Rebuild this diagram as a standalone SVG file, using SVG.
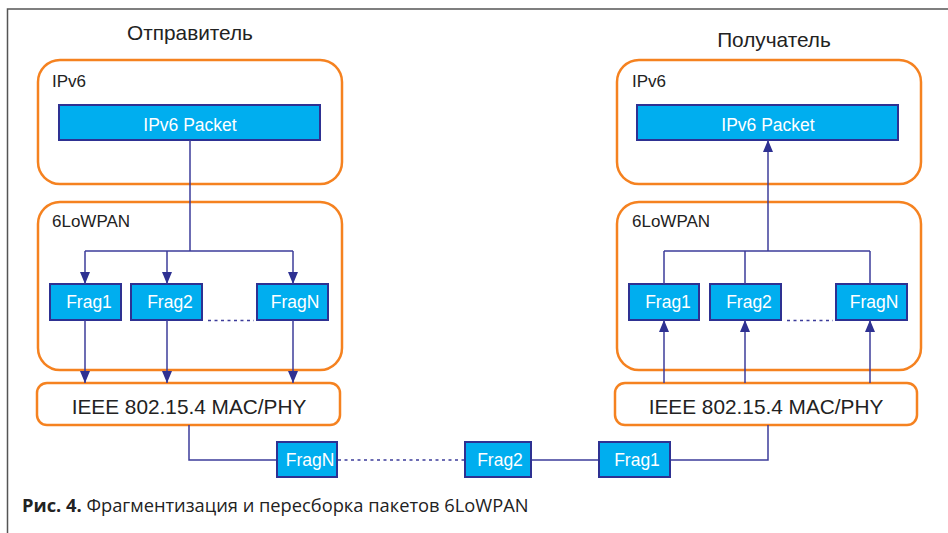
<svg xmlns="http://www.w3.org/2000/svg" width="948" height="533" viewBox="0 0 948 533">
  <defs>
    <marker id="arrow" markerWidth="12" markerHeight="10" refX="12" refY="5" orient="auto" markerUnits="userSpaceOnUse">
      <path d="M0,0 L12,5 L0,10 Z" fill="#2E3192"/>
    </marker>
    <style>
      .layer { fill: #fff; stroke: #F58220; stroke-width: 2.5; }
      .blk { fill: #00AEEF; stroke: #2E3192; stroke-width: 2; }
      .wire { fill: none; stroke: #3C3C9A; stroke-width: 1.5; }
      .dots { fill: none; stroke: #3C3C9A; stroke-width: 1.5; stroke-dasharray: 3 3.5; }
      .arr { marker-end: url(#arrow); }
      .t { font-family: "Liberation Sans", Arial, sans-serif; fill: #222; }
      .lbl { font-family: "Liberation Sans", Arial, sans-serif; fill: #222; font-size: 17px; }
      .w { font-family: "Liberation Sans", Arial, sans-serif; fill: #fff; font-size: 17.5px; text-anchor: middle; }
      .cap { font-family: "Open Sans", "Noto Sans", sans-serif; fill: #222; font-size: 18.3px; }
    </style>
  </defs>

  <rect width="948" height="533" fill="#fff"/>
  <!-- frame -->
  <path d="M7.5,533 V9 H948" fill="none" stroke="#555" stroke-width="1.5"/>

  <!-- titles -->
  <text class="t" x="190" y="40" font-size="20.8" text-anchor="middle">Отправитель</text>
  <text class="t" x="774" y="47" font-size="20.8" text-anchor="middle">Получатель</text>

  <!-- sender -->
  <g id="sender-ipv6">
    <rect class="layer" x="38" y="60" width="304" height="124" rx="22"/>
    <text class="lbl" x="52" y="87">IPv6</text>
  </g>
  <g id="sender-packet">
    <rect class="blk" x="59" y="105" width="261" height="35"/>
    <text class="w" x="190" y="131" font-size="18.3">IPv6 Packet</text>
  </g>
  <g id="sender-6lowpan">
    <rect class="layer" x="38" y="202" width="304" height="168" rx="22"/>
    <text class="lbl" x="52" y="227">6LoWPAN</text>
  </g>
  <g id="sender-frag1">
    <rect class="blk" x="50" y="284" width="71" height="36"/>
    <text class="w" x="89" y="308">Frag1</text>
  </g>
  <g id="sender-frag2">
    <rect class="blk" x="131" y="284" width="71" height="36"/>
    <text class="w" x="170" y="308">Frag2</text>
  </g>
  <g id="sender-fragn">
    <rect class="blk" x="257" y="284" width="71" height="36"/>
    <text class="w" x="295" y="308">FragN</text>
  </g>
  <g id="sender-mac">
    <rect class="layer" x="37" y="383" width="303" height="42" rx="10"/>
    <text class="t" x="189" y="414" font-size="20.8" text-anchor="middle">IEEE 802.15.4 MAC/PHY</text>
  </g>

  <!-- receiver -->
  <g id="receiver-ipv6">
    <rect class="layer" x="617" y="60" width="304" height="124" rx="22"/>
    <text class="lbl" x="632" y="87">IPv6</text>
  </g>
  <g id="receiver-packet">
    <rect class="blk" x="637" y="105" width="261" height="35"/>
    <text class="w" x="768" y="131" font-size="18.3">IPv6 Packet</text>
  </g>
  <g id="receiver-6lowpan">
    <rect class="layer" x="617" y="202" width="304" height="168" rx="22"/>
    <text class="lbl" x="632" y="227">6LoWPAN</text>
  </g>
  <g id="receiver-frag1">
    <rect class="blk" x="629" y="284" width="70" height="36"/>
    <text class="w" x="668" y="308">Frag1</text>
  </g>
  <g id="receiver-frag2">
    <rect class="blk" x="710" y="284" width="71" height="36"/>
    <text class="w" x="749" y="308">Frag2</text>
  </g>
  <g id="receiver-fragn">
    <rect class="blk" x="836" y="284" width="71" height="36"/>
    <text class="w" x="874" y="308">FragN</text>
  </g>
  <g id="receiver-mac">
    <rect class="layer" x="615" y="383" width="302" height="42" rx="10"/>
    <text class="t" x="766" y="414" font-size="20.8" text-anchor="middle">IEEE 802.15.4 MAC/PHY</text>
  </g>

  <!-- connectors -->
  <g id="connectors">
    <!-- sender: packet split into fragments -->
    <path class="wire" d="M190,140 V251 M85,251 H293"/>
    <path class="wire arr" d="M85,251 V284"/>
    <path class="wire arr" d="M167,251 V284"/>
    <path class="wire arr" d="M293,251 V284"/>
    <path class="dots" d="M208,320.5 H254"/>
    <path class="wire arr" d="M85,320 V383"/>
    <path class="wire arr" d="M167,320 V383"/>
    <path class="wire arr" d="M293,320 V383"/>

    <!-- receiver: fragments reassembled -->
    <path class="wire" d="M664,251 H870 M664,251 V284 M745,251 V284 M870,251 V284"/>
    <path class="wire arr" d="M768,251 V140"/>
    <path class="dots" d="M787,320.5 H833"/>
    <path class="wire arr" d="M664,383 V320"/>
    <path class="wire arr" d="M745,383 V320"/>
    <path class="wire arr" d="M870,383 V320"/>

    <!-- radio link -->
    <path class="wire" d="M189,425 V460 H277 M531,460 H599 M670,460 H768 V425"/>
    <path class="dots" d="M338,460 H465"/>
  </g>

  <!-- fragments on the link -->
  <g id="link-fragn">
    <rect class="blk" x="277" y="442" width="60" height="35"/>
    <text class="w" x="310" y="466">FragN</text>
  </g>
  <g id="link-frag2">
    <rect class="blk" x="465" y="442" width="66" height="35"/>
    <text class="w" x="500" y="466">Frag2</text>
  </g>
  <g id="link-frag1">
    <rect class="blk" x="599" y="442" width="71" height="35"/>
    <text class="w" x="637" y="466">Frag1</text>
  </g>

  <!-- caption -->
  <text class="cap" x="22" y="512"><tspan font-weight="bold">Рис. 4.</tspan> Фрагментизация и пересборка пакетов 6LoWPAN</text>
</svg>
